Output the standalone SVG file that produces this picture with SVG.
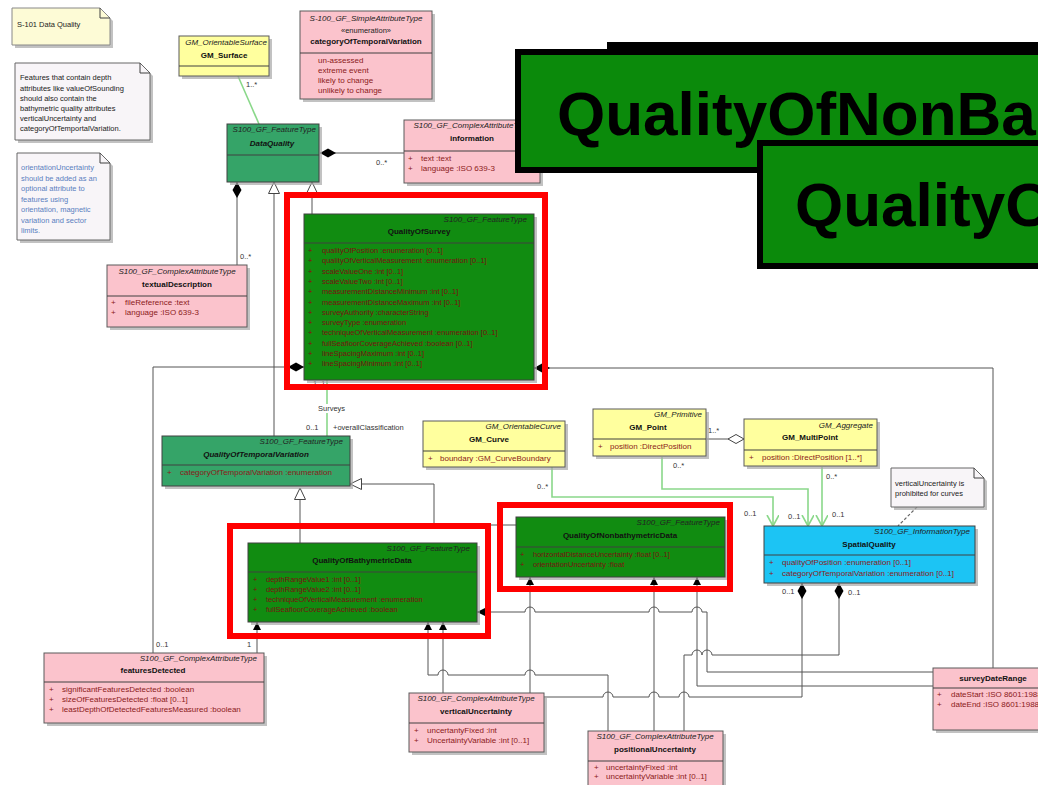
<svg xmlns="http://www.w3.org/2000/svg" width="1038" height="785" viewBox="0 0 1038 785">
<defs>
<style>
.bg{fill:#ffffff}
.sh{fill:#a8a8a8;opacity:.7}
.pk{fill:#fbc3cc;stroke:#5a5a5a;stroke-width:1}
.yl{fill:#ffff9e;stroke:#5a5a5a;stroke-width:1}
.gm{fill:#35a468;stroke:#404040;stroke-width:1}
.gd{fill:#118c11;stroke:#404040;stroke-width:1}
.cy{fill:#1cc4f4;stroke:#404040;stroke-width:1}
.nt{fill:#f8f5f8;stroke:#666;stroke-width:1}
.ny{fill:#fdfbd6;stroke:#888;stroke-width:1}
.dv{stroke:#404040;stroke-width:1;fill:none}
.hd{font-family:'Liberation Sans',Arial,sans-serif;font-style:italic;font-size:8px;fill:#222}
.nm{font-family:'Liberation Sans',Arial,sans-serif;font-weight:bold;font-size:8px;fill:#111}
.at{font-family:'Liberation Sans',Arial,sans-serif;font-size:8px;fill:#8b1a1a}
.atd{font-family:'Liberation Sans',Arial,sans-serif;font-size:7.5px;fill:#7a1010}
.tx{font-family:'Liberation Sans',Arial,sans-serif;font-size:7.5px;fill:#222}
.tb{font-family:'Liberation Sans',Arial,sans-serif;font-size:7.5px;fill:#5a7fc0}
.lb{font-family:'Liberation Sans',Arial,sans-serif;font-size:7.5px;fill:#333}
.ln{stroke:#555;stroke-width:1;fill:none}
.gl{stroke:#8ad88a;stroke-width:1.6;fill:none}
.red{fill:none;stroke:#ff0000;stroke-width:6}
.ban{fill:#0b8a0b;stroke:#000;stroke-width:6}
.bt{font-family:'Liberation Sans',Arial,sans-serif;font-weight:bold;font-size:62px;fill:#000}
</style>
<marker id="dia" markerUnits="userSpaceOnUse" markerWidth="18" markerHeight="10" refX="0" refY="5" orient="auto"><path d="M0,5 L8,0.5 L16,5 L8,9.5 Z" fill="#000"/></marker>
<marker id="tri" markerUnits="userSpaceOnUse" markerWidth="14" markerHeight="14" refX="12" refY="6" orient="auto"><path d="M0.5,0.5 L12,6 L0.5,11.5 Z" fill="#fff" stroke="#444" stroke-width="1"/></marker>
<marker id="arr" markerUnits="userSpaceOnUse" markerWidth="10" markerHeight="10" refX="8" refY="4" orient="auto"><path d="M0,0 L8,4 L0,8 Z" fill="#000"/></marker>
<marker id="opn" markerUnits="userSpaceOnUse" markerWidth="14" markerHeight="14" refX="11" refY="6" orient="auto"><path d="M0,0 L11,6 L0,12" fill="none" stroke="#8ad88a" stroke-width="1.6"/></marker>
<marker id="hdia" markerUnits="userSpaceOnUse" markerWidth="18" markerHeight="10" refX="16" refY="5" orient="auto"><path d="M0,5 L8,0.5 L16,5 L8,9.5 Z" fill="#fff" stroke="#444"/></marker>
</defs>
<rect class="bg" x="0" y="0" width="1038" height="785"/>

<!-- notes -->
<g id="note-title">
<path class="sh" d="M15,11 H103 L113,21 V48 H15 Z"/>
<path class="ny" d="M12,8 H100 L110,18 V45 H12 Z"/>
<path class="dv" d="M100,8 V18 H110"/>
<text class="tx" x="17" y="27">S-101 Data Quality</text>
</g>
<g id="note-depth">
<path class="sh" d="M18,66 H143 L153,76 V143 H18 Z"/>
<path class="nt" d="M15,63 H140 L150,73 V140 H15 Z"/>
<path class="dv" d="M140,63 V73 H150"/>
<text class="tx" x="20" y="80">Features that contain depth</text>
<text class="tx" x="20" y="90.5">attributes like valueOfSounding</text>
<text class="tx" x="20" y="101">should also contain the</text>
<text class="tx" x="20" y="111">bathymetric quality attributes</text>
<text class="tx" x="20" y="121">verticalUncertainty and</text>
<text class="tx" x="20" y="131">categoryOfTemportalVariation.</text>
</g>
<g id="note-orientation">
<path class="sh" d="M20,156 H103 L113,166 V243 H20 Z"/>
<path class="nt" d="M17,153 H100 L110,163 V240 H17 Z"/>
<path class="dv" d="M100,153 V163 H110"/>
<text class="tb" x="21" y="170">orientationUncertainty</text>
<text class="tb" x="21" y="180.5">should be added as an</text>
<text class="tb" x="21" y="191">optional attribute to</text>
<text class="tb" x="21" y="201.5">features using</text>
<text class="tb" x="21" y="212">orientation, magnetic</text>
<text class="tb" x="21" y="222.5">variation and sector</text>
<text class="tb" x="21" y="233">limits.</text>
</g>

<!-- connectors -->
<g id="connectors">
<path class="gl" d="M238,76 L259,124"/>
<text class="lb" x="246" y="87">1..*</text>
<path class="ln" d="M320,153 L404,153" marker-start="url(#dia)"/>
<text class="lb" x="376" y="165">0..*</text>
<path class="ln" d="M237,182 L237,265" marker-start="url(#dia)"/>
<text class="lb" x="240" y="259">0..*</text>
<path class="ln" d="M274,436 L274,182" marker-end="url(#tri)"/>
<path class="ln" d="M312,214 L312,182" marker-end="url(#tri)"/>
<path class="ln" d="M304,367 L153,367 L153,653" marker-start="url(#dia)"/>
<text class="lb" x="156" y="647">0..1</text>
<path class="ln" d="M534,368 L993,368 L993,668" marker-start="url(#dia)"/>
<path class="gl" d="M327,380 L327,436"/>
<text class="lb" x="313" y="386">1..1</text>
<rect x="316" y="404" width="32" height="9" fill="#fff"/>
<text class="lb" x="318" y="411">Surveys</text>
<text class="lb" x="306" y="430">0..1</text>
<text class="lb" x="333" y="430">+overallClassification</text>
<path class="ln" d="M300,543 L300,488" marker-end="url(#tri)"/>
<path class="ln" d="M516,525 L434,525 L434,484 L350,484" marker-end="url(#tri)"/>
<path class="ln" d="M257,653 L257,622" marker-end="url(#arr)"/>
<text class="lb" x="247" y="647">1</text>
<path class="ln" d="M608,731 L608,675 L535,675 A5,5 0 0 0 525,675 L448,675 A5,5 0 0 0 438,675 L428,675 L428,622" marker-end="url(#arr)"/>
<path class="ln" d="M443,693 L443,622" marker-end="url(#arr)"/>
<path class="ln" d="M530,693 L530,577" marker-end="url(#arr)"/>
<path class="ln" d="M654,731 L654,577" marker-end="url(#arr)"/>
<path class="ln" d="M933,686 L697,686 L697,577" marker-end="url(#arr)"/>
<path class="ln" d="M933,672 L707,672 L707,612 L702,612 A5,5 0 0 0 692,612 L659,612 A5,5 0 0 0 649,612 L535,612 A5,5 0 0 0 525,612 L477,612" marker-end="url(#arr)"/>
<path class="ln" d="M802,583 L802,697 L689,697 A5,5 0 0 0 679,697 L659,697 A5,5 0 0 0 649,697 L613,697 A5,5 0 0 0 603,697 L544,697" marker-start="url(#dia)"/>
<path class="ln" d="M839,583 L839,655 L712,655 A5,5 0 0 0 702,655 L702,655 A5,5 0 0 0 692,655 L684,655 L684,731" marker-start="url(#dia)"/>
<text class="lb" x="782" y="594">0..1</text>
<text class="lb" x="848" y="595">0..1</text>
<path class="gl" d="M552,467 L552,497 L773,497 L773,526" marker-end="url(#opn)"/>
<text class="lb" x="537" y="489">0..*</text>
<text class="lb" x="744" y="516">0..1</text>
<path class="gl" d="M662,457 L662,489 L808,489 L808,526" marker-end="url(#opn)"/>
<text class="lb" x="673" y="468">0..*</text>
<text class="lb" x="788" y="519">0..1</text>
<path class="gl" d="M822,467 L822,526" marker-end="url(#opn)"/>
<text class="lb" x="826" y="479">0..*</text>
<text class="lb" x="832" y="517">0..1</text>
<path class="ln" d="M707,439 L744,439" marker-end="url(#hdia)"/>
<text class="lb" x="708" y="433">1..*</text>
<path d="M917,507 L898,526" stroke="#666" stroke-width="1.2" stroke-dasharray="3,2" fill="none"/>
</g>

<!-- nodes -->
<g id="GM_Surface">
<rect class="sh" x="182" y="39" width="90" height="40"/>
<rect class="yl" x="179" y="36" width="90" height="40"/>
<text class="hd" x="267" y="45" text-anchor="end">GM_OrientableSurface</text>
<text class="nm" x="224" y="58" text-anchor="middle">GM_Surface</text>
<path class="dv" d="M179,66 H269"/>
</g>
<g id="categoryOfTemporalVariation">
<rect class="sh" x="303" y="14" width="132" height="88"/>
<rect class="pk" x="300" y="11" width="132" height="88"/>
<text class="hd" x="366" y="21" text-anchor="middle">S-100_GF_SimpleAttributeType</text>
<text class="lb" x="366" y="33" text-anchor="middle" style="fill:#222">«enumeration»</text>
<text class="nm" x="366" y="44" text-anchor="middle">categoryOfTemporalVariation</text>
<path class="dv" d="M300,53 H432"/>
<text class="at" x="318" y="63">un-assessed</text>
<text class="at" x="318" y="73">extreme event</text>
<text class="at" x="318" y="83">likely to change</text>
<text class="at" x="318" y="93">unlikely to change</text>
</g>
<g id="DataQuality">
<rect class="sh" x="230" y="127" width="92" height="58"/>
<rect class="gm" x="227" y="124" width="92" height="58"/>
<text class="hd" x="316" y="132" text-anchor="end">S100_GF_FeatureType</text>
<text class="nm" x="272" y="146" text-anchor="middle" font-style="italic">DataQuality</text>
<path class="dv" d="M227,155 H319"/>
</g>
<g id="information">
<rect class="sh" x="407" y="123" width="136" height="63"/>
<rect class="pk" x="404" y="120" width="136" height="63"/>
<text class="hd" x="472" y="128" text-anchor="middle">S100_GF_ComplexAttributeType</text>
<text class="nm" x="472" y="141" text-anchor="middle">information</text>
<path class="dv" d="M404,151 H540"/>
<text class="at" x="408" y="161">+</text><text class="at" x="421" y="161">text :text</text>
<text class="at" x="408" y="171">+</text><text class="at" x="421" y="171">language :ISO 639-3</text>
</g>
<g id="textualDescription">
<rect class="sh" x="110" y="268" width="140" height="62"/>
<rect class="pk" x="107" y="265" width="140" height="62"/>
<text class="hd" x="177" y="274" text-anchor="middle">S100_GF_ComplexAttributeType</text>
<text class="nm" x="177" y="287" text-anchor="middle">textualDescription</text>
<path class="dv" d="M107,296 H247"/>
<text class="at" x="111" y="305">+</text><text class="at" x="125" y="305">fileReference :text</text>
<text class="at" x="111" y="315">+</text><text class="at" x="125" y="315">language :ISO 639-3</text>
</g>
<g id="QualityOfSurvey">
<rect class="sh" x="307" y="217" width="230" height="166"/>
<rect class="gd" x="304" y="214" width="230" height="166"/>
<text class="hd" x="527" y="222" text-anchor="end">S100_GF_FeatureType</text>
<text class="nm" x="419" y="234" text-anchor="middle">QualityOfSurvey</text>
<path class="dv" d="M304,243 H534"/>
<text class="atd" x="308" y="253">+</text><text class="atd" x="322" y="253">qualityOfPosition :enumeration [0..1]</text>
<text class="atd" x="308" y="263.3">+</text><text class="atd" x="322" y="263.3">qualityOfVerticalMeasurement :enumeration [0..1]</text>
<text class="atd" x="308" y="273.6">+</text><text class="atd" x="322" y="273.6">scaleValueOne :int [0..1]</text>
<text class="atd" x="308" y="283.9">+</text><text class="atd" x="322" y="283.9">scaleValueTwo :int [0..1]</text>
<text class="atd" x="308" y="294.2">+</text><text class="atd" x="322" y="294.2">measurementDistanceMinimum :int [0..1]</text>
<text class="atd" x="308" y="304.5">+</text><text class="atd" x="322" y="304.5">measurementDistanceMaximum :int [0..1]</text>
<text class="atd" x="308" y="314.8">+</text><text class="atd" x="322" y="314.8">surveyAuthority :characterString</text>
<text class="atd" x="308" y="325.1">+</text><text class="atd" x="322" y="325.1">surveyType :enumeration</text>
<text class="atd" x="308" y="335.4">+</text><text class="atd" x="322" y="335.4">techniqueOfVerticalMeasurement :enumeration [0..1]</text>
<text class="atd" x="308" y="345.7">+</text><text class="atd" x="322" y="345.7">fullSeafloorCoverageAchieved :boolean [0..1]</text>
<text class="atd" x="308" y="356">+</text><text class="atd" x="322" y="356">lineSpacingMaximum :int [0..1]</text>
<text class="atd" x="308" y="366.3">+</text><text class="atd" x="322" y="366.3">lineSpacingMinimum :int [0..1]</text>
<rect class="red" x="287" y="195" width="258" height="192"/>
</g>
<g id="QualityOfTemporalVariation">
<rect class="sh" x="165" y="439" width="188" height="50"/>
<rect class="gm" x="162" y="436" width="188" height="50"/>
<text class="hd" x="343" y="444" text-anchor="end">S100_GF_FeatureType</text>
<text class="nm" x="256" y="457" text-anchor="middle" font-style="italic">QualityOfTemporalVariation</text>
<path class="dv" d="M162,465 H350"/>
<text class="at" x="167" y="475">+</text><text class="at" x="180" y="475">categoryOfTemporalVariation :enumeration</text>
</g>
<g id="GM_Curve">
<rect class="sh" x="426" y="424" width="142" height="46"/>
<rect class="yl" x="423" y="421" width="142" height="46"/>
<text class="hd" x="561" y="429" text-anchor="end">GM_OrientableCurve</text>
<text class="nm" x="489" y="442" text-anchor="middle">GM_Curve</text>
<path class="dv" d="M423,451 H565"/>
<text class="at" x="428" y="461">+</text><text class="at" x="440" y="461">boundary :GM_CurveBoundary</text>
</g>
<g id="GM_Point">
<rect class="sh" x="596" y="412" width="113" height="47"/>
<rect class="yl" x="593" y="409" width="113" height="47"/>
<text class="hd" x="702" y="417" text-anchor="end">GM_Primitive</text>
<text class="nm" x="648" y="430" text-anchor="middle">GM_Point</text>
<path class="dv" d="M593,439 H706"/>
<text class="at" x="598" y="449">+</text><text class="at" x="610" y="449">position :DirectPosition</text>
</g>
<g id="GM_MultiPoint">
<rect class="sh" x="747" y="422" width="133" height="47"/>
<rect class="yl" x="744" y="419" width="133" height="47"/>
<text class="hd" x="873" y="428" text-anchor="end">GM_Aggregate</text>
<text class="nm" x="810" y="440" text-anchor="middle">GM_MultiPoint</text>
<path class="dv" d="M744,450 H877"/>
<text class="at" x="749" y="460">+</text><text class="at" x="762" y="460">position :DirectPosition [1..*]</text>
</g>
<g id="note-vertical">
<path class="sh" d="M894,471 H977 L987,481 V510 H894 Z"/>
<path class="nt" d="M891,468 H974 L984,478 V507 H891 Z"/>
<path class="dv" d="M974,468 V478 H984"/>
<text class="tx" x="895" y="486">verticalUncertainty is</text>
<text class="tx" x="895" y="496">prohibited for curves</text>
</g>
<g id="SpatialQuality">
<rect class="sh" x="767" y="529" width="211" height="57"/>
<rect class="cy" x="764" y="526" width="211" height="57"/>
<text class="hd" x="970" y="534" text-anchor="end">S100_GF_InformationType</text>
<text class="nm" x="869" y="547" text-anchor="middle">SpatialQuality</text>
<path class="dv" d="M764,555 H975"/>
<text class="at" x="769" y="565">+</text><text class="at" x="782" y="565">qualityOfPosition :enumeration [0..1]</text>
<text class="at" x="769" y="576">+</text><text class="at" x="782" y="576">categoryOfTemporalVariation :enumeration [0..1]</text>
</g>
<g id="QualityOfNonbathymetricData">
<rect class="sh" x="519" y="520" width="209" height="60"/>
<rect class="gd" x="516" y="517" width="209" height="60"/>
<text class="hd" x="720" y="525" text-anchor="end">S100_GF_FeatureType</text>
<text class="nm" x="620" y="538" text-anchor="middle">QualityOfNonbathymetricData</text>
<path class="dv" d="M516,547 H725"/>
<text class="atd" x="520" y="557">+</text><text class="atd" x="533" y="557">horizontalDistanceUncertainty :float [0..1]</text>
<text class="atd" x="520" y="567">+</text><text class="atd" x="533" y="567">orientationUncertainty :float</text>
<rect class="red" x="500" y="505" width="230" height="84"/>
</g>
<g id="QualityOfBathymetricData">
<rect class="sh" x="251" y="546" width="229" height="79"/>
<rect class="gd" x="248" y="543" width="229" height="79"/>
<text class="hd" x="470" y="551" text-anchor="end">S100_GF_FeatureType</text>
<text class="nm" x="362" y="563" text-anchor="middle">QualityOfBathymetricData</text>
<path class="dv" d="M248,572 H477"/>
<text class="atd" x="253" y="582">+</text><text class="atd" x="266" y="582">depthRangeValue1 :int [0..1]</text>
<text class="atd" x="253" y="592">+</text><text class="atd" x="266" y="592">depthRangeValue2 :int [0..1]</text>
<text class="atd" x="253" y="602">+</text><text class="atd" x="266" y="602">techniqueOfVerticalMeasurement :enumeration</text>
<text class="atd" x="253" y="612">+</text><text class="atd" x="266" y="612">fullSeafloorCoverageAchieved :boolean</text>
<rect class="red" x="230" y="526" width="258" height="110"/>
</g>
<g id="featuresDetected">
<rect class="sh" x="47" y="656" width="220" height="70"/>
<rect class="pk" x="44" y="653" width="220" height="70"/>
<text class="hd" x="257" y="661" text-anchor="end">S100_GF_ComplexAttributeType</text>
<text class="nm" x="153" y="673" text-anchor="middle">featuresDetected</text>
<path class="dv" d="M44,682 H264"/>
<text class="at" x="49" y="692">+</text><text class="at" x="62" y="692">significantFeaturesDetected :boolean</text>
<text class="at" x="49" y="702">+</text><text class="at" x="62" y="702">sizeOfFeaturesDetected :float [0..1]</text>
<text class="at" x="49" y="712">+</text><text class="at" x="62" y="712">leastDepthOfDetectedFeaturesMeasured :boolean</text>
</g>
<g id="verticalUncertainty">
<rect class="sh" x="412" y="696" width="135" height="59"/>
<rect class="pk" x="409" y="693" width="135" height="59"/>
<text class="hd" x="476" y="701" text-anchor="middle">S100_GF_ComplexAttributeType</text>
<text class="nm" x="476" y="714" text-anchor="middle">verticalUncertainty</text>
<path class="dv" d="M409,723 H544"/>
<text class="at" x="414" y="733">+</text><text class="at" x="427" y="733">uncertantyFixed :int</text>
<text class="at" x="414" y="743">+</text><text class="at" x="427" y="743">UncertaintyVariable :int [0..1]</text>
</g>
<g id="positionalUncertainty">
<rect class="sh" x="591" y="734" width="135" height="60"/>
<rect class="pk" x="588" y="731" width="135" height="60"/>
<text class="hd" x="655" y="739" text-anchor="middle">S100_GF_ComplexAttributeType</text>
<text class="nm" x="655" y="752" text-anchor="middle">positionalUncertainty</text>
<path class="dv" d="M588,761 H723"/>
<text class="at" x="594" y="770">+</text><text class="at" x="606" y="770">uncertaintyFixed :int</text>
<text class="at" x="594" y="779">+</text><text class="at" x="606" y="779">uncertaintyVariable :int [0..1]</text>
</g>
<g id="surveyDateRange">
<rect class="sh" x="936" y="671" width="120" height="62"/>
<rect class="pk" x="933" y="668" width="120" height="62"/>
<text class="nm" x="993" y="681" text-anchor="middle">surveyDateRange</text>
<path class="dv" d="M933,688 H1053"/>
<text class="at" x="937" y="697">+</text><text class="at" x="951" y="697">dateStart :ISO 8601:1988</text>
<text class="at" x="937" y="707">+</text><text class="at" x="951" y="707">dateEnd :ISO 8601:1988</text>
</g>

<!-- overlay banners -->
<g id="banner-nonbathy">
<rect x="607" y="42" width="440" height="20" fill="#000"/>
<rect class="ban" x="518" y="52" width="530" height="118"/>
<text class="bt" x="557" y="135">QualityOfNonBa</text>
</g>
<g id="banner-quality">
<rect class="ban" x="760" y="143" width="290" height="123"/>
<text class="bt" x="795" y="226">QualityO</text>
</g>
</svg>
